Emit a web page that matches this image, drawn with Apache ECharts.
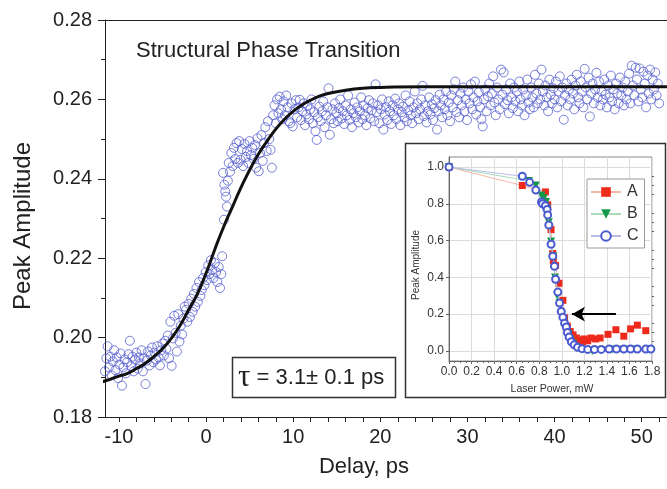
<!DOCTYPE html>
<html>
<head>
<meta charset="utf-8">
<script src="https://cdn.jsdelivr.net/npm/echarts@6/dist/echarts.min.js"></script>
<style>html,body{margin:0;padding:0;background:#fff}#c{width:667px;height:489px}</style>
</head>
<body>
<div id="c"></div>
<script>
// ---------- main panel data ----------
const xLabelValues = [-10, 0, 10, 20, 30, 40, 50];
const xTickValues = [-10,-8,-6,-4,-2,0,2,4,6,8,10,12,14,16,18,20,22,24,26,28,30,32,34,36,38,40,42,44,46,48,50,52];
const measuredPoints = [
[-11.9,0.1935],[-11.75,0.1962],[-11.6,0.1915],[-11.45,0.1948],[-11.3,0.1978],[-11.15,0.1925],[-11.0,0.1952],[-10.85,0.1905],[-10.7,0.1940],[-10.55,0.1968],[-10.4,0.1918],[-10.25,0.1950],[-10.1,0.1898],[-9.95,0.1932],[-9.8,0.1960],[-9.65,0.1879],[-9.5,0.1925],[-9.35,0.1945],[-9.2,0.1910],[-9.05,0.1938],[-8.9,0.1958],[-8.75,0.1992],[-8.6,0.1928],[-8.45,0.1952],[-8.3,0.1915],[-8.15,0.1945],[-8.0,0.1962],[-7.85,0.1922],[-7.7,0.1950],[-7.55,0.1935],[-7.4,0.1968],[-7.25,0.1915],[-7.1,0.1948],[-6.95,0.1883],[-6.8,0.1942],[-6.65,0.1965],[-6.5,0.1930],[-6.35,0.1955],[-6.2,0.1975],[-6.05,0.1938],[-5.9,0.1962],[-5.75,0.1945],[-5.6,0.1978],[-5.45,0.1950],[-5.3,0.1930],[-5.15,0.1968],[-5.0,0.1985],
[-4.85,0.1955],[-4.7,0.1992],[-4.55,0.1972],[-4.4,0.2005],[-4.25,0.1948],[-4.1,0.2040],[-3.95,0.1929],[-3.8,0.1998],[-3.65,0.2055],[-3.5,0.2012],[-3.35,0.1965],[-3.2,0.2059],[-3.05,0.1990],[-2.9,0.2030],[-2.75,0.2008],[-2.6,0.2048],[-2.45,0.2078],[-2.3,0.2070],[-2.15,0.2040],[-2.0,0.2085],[-1.85,0.2052],[-1.7,0.2098],[-1.55,0.2065],[-1.4,0.2110],[-1.25,0.2078],[-1.1,0.2125],[-0.95,0.2090],[-0.8,0.2140],[-0.65,0.2105],
[-0.5,0.2120],[-0.35,0.2150],[-0.2,0.2132],[-0.05,0.2165],[0.1,0.2145],[0.25,0.2182],[0.4,0.2160],[0.55,0.2195],[0.7,0.2170],[0.85,0.2150],[1.0,0.2188],[1.15,0.2165],[1.3,0.2140],[1.45,0.2178],[1.6,0.2125],[1.75,0.2160],[1.85,0.2205],[1.95,0.2415],[2.05,0.2297],[2.1,0.2385],[2.2,0.2368],[2.3,0.2355],[2.4,0.2330],[2.5,0.2395],[2.6,0.2440],[2.75,0.2418],[2.9,0.2465],[3.05,0.2432],[3.2,0.2478],[3.35,0.2450],[3.5,0.2490],[3.65,0.2440],
[3.8,0.2495],[3.95,0.2448],[4.1,0.2475],[4.25,0.2432],[4.4,0.2488],[4.55,0.2455],[4.7,0.2470],[4.85,0.2440],[5.0,0.2495],[5.15,0.2460],[5.3,0.2478],[5.45,0.2450],[5.6,0.2485],[5.75,0.2428],[5.9,0.2502],[6.05,0.2419],[6.2,0.2465],[6.35,0.2510],[6.5,0.2445],[6.65,0.2490],[6.8,0.2530],[6.95,0.2470],[7.1,0.2545],[7.25,0.2500],[7.4,0.2473],[7.55,0.2428],[7.7,0.2560],[7.85,0.2585],[8.0,0.2540],[8.15,0.2600],[8.3,0.2565],[8.45,0.2607],[8.6,0.2575],[8.75,0.2550],[8.9,0.2595],[9.05,0.2560],[9.2,0.2610],[9.35,0.2580],[9.5,0.2545],[9.65,0.2540],[9.8,0.2590],[9.95,0.2532],
[10.15,0.2575],[10.3,0.2598],[10.45,0.2555],[10.6,0.2580],[10.75,0.2599],[10.9,0.2548],[11.05,0.2570],[11.2,0.2590],[11.35,0.2535],[11.5,0.2562],[11.65,0.2585],[11.8,0.2550],[11.95,0.2575],[12.1,0.2600],[12.25,0.2540],[12.4,0.2568],[12.55,0.2520],[12.7,0.2498],[12.85,0.2555],[13.0,0.2582],[13.15,0.2545],[13.3,0.2570],[13.45,0.2595],[13.6,0.2530],[13.75,0.2560],[13.9,0.2580],[14.05,0.2628],[14.2,0.2511],[14.35,0.2550],[14.5,0.2575],[14.65,0.2540],[14.8,0.2590],[14.95,0.2565],
[15.1,0.2545],[15.25,0.2578],[15.4,0.2600],[15.55,0.2552],[15.7,0.2570],[15.85,0.2538],[16.0,0.2585],[16.15,0.2560],[16.3,0.2610],[16.45,0.2548],[16.6,0.2575],[16.75,0.2530],[16.9,0.2565],[17.05,0.2592],[17.2,0.2555],[17.35,0.2580],[17.5,0.2542],[17.65,0.2570],[17.8,0.2605],[17.95,0.2550],[18.1,0.2585],[18.25,0.2560],[18.4,0.2535],[18.55,0.2578],[18.7,0.2598],[18.85,0.2552],[19.0,0.2572],[19.15,0.2590],[19.3,0.2545],[19.45,0.2638],[19.6,0.2568],[19.75,0.2585],[19.9,0.2540],
[20.05,0.2575],[20.2,0.2600],[20.35,0.2524],[20.5,0.2562],[20.65,0.2580],[20.8,0.2548],[20.95,0.2595],[21.1,0.2570],[21.25,0.2538],[21.4,0.2585],[21.55,0.2560],[21.7,0.2602],[21.85,0.2550],[22.0,0.2575],[22.15,0.2590],[22.3,0.2535],[22.45,0.2568],[22.6,0.2582],[22.75,0.2555],[22.9,0.2610],[23.05,0.2545],[23.2,0.2572],[23.35,0.2595],[23.5,0.2560],[23.65,0.2540],[23.8,0.2580],[23.95,0.2620],[24.1,0.2565],[24.25,0.2590],[24.4,0.2550],[24.55,0.2575],[24.7,0.2600],[24.85,0.2634],
[25.0,0.2558],[25.15,0.2585],[25.3,0.2542],[25.45,0.2570],[25.6,0.2605],[25.75,0.2562],[25.9,0.2588],[26.05,0.2548],[26.2,0.2578],[26.35,0.2598],[26.5,0.2524],[26.65,0.2570],[26.8,0.2612],[26.95,0.2585],[27.1,0.2555],[27.25,0.2600],[27.4,0.2575],[27.55,0.2620],[27.7,0.2560],[27.85,0.2592],[28.0,0.2545],[28.15,0.2610],[28.3,0.2580],[28.45,0.2625],[28.6,0.2645],[28.75,0.2568],[28.9,0.2598],[29.05,0.2555],[29.2,0.2615],[29.35,0.2585],[29.5,0.2630],[29.65,0.2570],[29.8,0.2600],[29.95,0.2548],
[30.1,0.2620],[30.25,0.2590],[30.4,0.2638],[30.55,0.2575],[30.7,0.2605],[30.85,0.2645],[31.0,0.2562],[31.15,0.2595],[31.3,0.2618],[31.45,0.2580],[31.6,0.2550],[31.75,0.2532],[31.9,0.2600],[32.05,0.2625],[32.2,0.2570],[32.35,0.2608],[32.5,0.2640],[32.65,0.2585],[32.8,0.2615],[32.95,0.2658],[33.1,0.2592],[33.25,0.2560],[33.4,0.2630],[33.55,0.2600],[33.7,0.2575],[33.85,0.2675],[34.0,0.2612],[34.15,0.2668],[34.3,0.2588],[34.45,0.2625],[34.6,0.2598],[34.75,0.2565],[34.9,0.2640],
[35.05,0.2605],[35.2,0.2578],[35.35,0.2630],[35.5,0.2595],[35.65,0.2620],[35.8,0.2570],[35.95,0.2645],[36.1,0.2600],[36.25,0.2585],[36.4,0.2625],[36.55,0.2560],[36.7,0.2610],[36.85,0.2650],[37.0,0.2592],[37.15,0.2575],[37.3,0.2630],[37.45,0.2605],[37.6,0.2580],[37.75,0.2662],[37.9,0.2615],[38.05,0.2590],[38.2,0.2640],[38.35,0.2600],[38.5,0.2675],[38.65,0.2620],[38.8,0.2585],[38.95,0.2635],[39.1,0.2605],[39.25,0.2570],[39.4,0.2650],[39.55,0.2612],[39.7,0.2590],[39.85,0.2628],
[40.0,0.2600],[40.15,0.2645],[40.3,0.2580],[40.45,0.2620],[40.6,0.2658],[40.75,0.2595],[40.9,0.2630],[41.05,0.2549],[41.2,0.2610],[41.35,0.2640],[41.5,0.2585],[41.65,0.2625],[41.8,0.2600],[41.95,0.2650],[42.1,0.2615],[42.25,0.2575],[42.4,0.2635],[42.55,0.2662],[42.7,0.2605],[42.85,0.2590],[43.0,0.2645],[43.15,0.2620],[43.3,0.2580],[43.45,0.2677],[43.6,0.2630],[43.75,0.2600],[43.9,0.2655],[44.05,0.2557],[44.2,0.2615],[44.35,0.2640],[44.5,0.2590],[44.65,0.2625],[44.8,0.2667],[44.95,0.2605],
[45.1,0.2645],[45.25,0.2585],[45.4,0.2620],[45.55,0.2600],[45.7,0.2650],[45.85,0.2612],[46.0,0.2580],[46.15,0.2635],[46.3,0.2605],[46.45,0.2660],[46.6,0.2595],[46.75,0.2625],[46.9,0.2575],[47.05,0.2640],[47.2,0.2615],[47.35,0.2590],[47.5,0.2655],[47.65,0.2610],[47.8,0.2630],[47.95,0.2585],[48.1,0.2645],[48.25,0.2600],[48.4,0.2620],[48.55,0.2665],[48.7,0.2590],[48.85,0.2685],[49.0,0.2635],[49.15,0.2610],[49.3,0.2680],[49.45,0.2650],[49.6,0.2595],[49.75,0.2678],[49.9,0.2625],
[50.05,0.2605],[50.2,0.2670],[50.35,0.2640],[50.5,0.2580],[50.65,0.2660],[50.8,0.2615],[50.95,0.2675],[51.1,0.2600],[51.25,0.2650],[51.4,0.2625],[51.55,0.2668],[51.7,0.2610],[51.85,0.2640],[52.0,0.2590]
];
const fitCurve = [[-12,0.1888],[-11,0.1895],[-10,0.1903],[-9,0.1910],[-8,0.1922],[-7,0.1935],[-6,0.1952],[-5,0.1972],[-4,0.1998],[-3,0.2030],[-2,0.2070],[-1,0.2110],[0,0.2162],[1,0.2222],[2,0.2278],[3,0.2328],[4,0.2378],[5,0.2422],[6,0.2462],[7,0.2495],[8,0.2525],[9,0.2550],[10,0.2570],[11,0.2586],[12,0.2598],[13,0.2608],[14,0.2615],[16,0.2623],[18,0.2628],[20,0.2630],[25,0.2632],[30,0.2632],[40,0.2632],[53,0.2632]];

// ---------- inset data ----------
const insetYLabels = [0, 0.2, 0.4, 0.6, 0.8, 1.0];
const insetYMinor = [0.05,0.1,0.15,0.25,0.3,0.35,0.45,0.5,0.55,0.65,0.7,0.75,0.85,0.9,0.95];
const seriesA = [[0,1.0],[0.65,0.90],[0.855,0.865],[0.875,0.795],[0.905,0.66],[0.92,0.53],[0.925,0.49],[0.945,0.465],[0.975,0.368],[1.01,0.275],[1.025,0.18],[1.05,0.135],[1.075,0.105],[1.1,0.087],[1.13,0.07],[1.155,0.06],[1.185,0.05],[1.2,0.065],[1.23,0.055],[1.26,0.07],[1.3,0.065],[1.34,0.07],[1.41,0.09],[1.48,0.115],[1.55,0.08],[1.61,0.12],[1.67,0.14],[1.745,0.11]];
const seriesB = [[0,1.0],[0.71,0.925],[0.77,0.90],[0.82,0.845],[0.84,0.83],[0.86,0.81],[0.87,0.775],[0.885,0.70],[0.905,0.595],[0.925,0.515],[0.94,0.40],[0.96,0.30],[0.98,0.26],[1.0,0.20],[1.02,0.16],[1.04,0.12],[1.06,0.09],[1.08,0.06],[1.1,0.04],[1.13,0.02],[1.17,0.01],[1.22,0.005],[1.27,0.0],[1.35,0.005],[1.45,0.008],[1.55,0.008],[1.65,0.008],[1.78,0.008]];
const seriesC = [[0,1.0],[0.65,0.95],[0.715,0.917],[0.77,0.875],[0.82,0.81],[0.83,0.80],[0.855,0.79],[0.87,0.77],[0.875,0.74],[0.885,0.685],[0.905,0.58],[0.92,0.515],[0.935,0.46],[0.945,0.39],[0.965,0.32],[0.98,0.26],[0.995,0.215],[1.01,0.183],[1.025,0.15],[1.04,0.13],[1.05,0.10],[1.065,0.075],[1.085,0.05],[1.11,0.033],[1.14,0.02],[1.18,0.012],[1.23,0.008],[1.29,0.008],[1.35,0.008],[1.42,0.01],[1.485,0.01],[1.55,0.01],[1.61,0.01],[1.67,0.01],[1.745,0.01],[1.79,0.01]];
const arrowFrom = [1.48, 0.2];
const arrowTo = [1.09, 0.2];

const FONT = "'Liberation Sans', Arial, Helvetica, sans-serif";
const chart = echarts.init(document.getElementById('c'), null, {renderer: 'canvas'});

const option = {
  backgroundColor: '#ffffff',
  animation: false,
  textStyle: {fontFamily: FONT},
  grid: [
    {left: 105, right: -6, top: 20, bottom: 72},
    {left: 449, top: 157, width: 203, height: 204, show: true, borderColor: '#8a8a8a', borderWidth: 1, backgroundColor: '#fff'}
  ],
  xAxis: [
    {gridIndex: 0, type: 'value', min: -11.6, max: 52.9,
     axisLine: {show: true, onZero: false, lineStyle: {color: '#222', width: 1}},
     axisTick: {show: true, inside: false, length: 5, customValues: xTickValues, lineStyle: {color: '#222'}},
     axisLabel: {customValues: xLabelValues, fontSize: 20, color: '#222', margin: 10, fontFamily: FONT},
     splitLine: {show: false}},
    {gridIndex: 0, type: 'value', position: 'top', min: -11.6, max: 52.9,
     axisLine: {show: true, onZero: false, lineStyle: {color: '#222', width: 1}},
     axisTick: {show: false}, axisLabel: {show: false}, splitLine: {show: false}},
    {gridIndex: 1, type: 'value', min: 0, max: 1.8, interval: 0.2,
     axisLine: {show: true, onZero: false, lineStyle: {color: '#666'}},
     axisTick: {show: true, inside: false, length: 3, lineStyle: {color: '#666'}},
     minorTick: {show: true, splitNumber: 4, length: 2, lineStyle: {color: '#666'}},
     axisLabel: {fontSize: 12, color: '#333', margin: 5, formatter: v => v.toFixed(1), fontFamily: FONT},
     splitLine: {show: true, lineStyle: {color: '#dcdcdc', width: 1}}}
  ],
  yAxis: [
    {gridIndex: 0, type: 'value', min: 0.18, max: 0.28, interval: 0.02,
     axisLine: {show: true, onZero: false, lineStyle: {color: '#222', width: 1}},
     axisTick: {show: true, inside: false, length: 7, lineStyle: {color: '#222'}},
     minorTick: {show: true, splitNumber: 2, length: 4, lineStyle: {color: '#222'}},
     axisLabel: {fontSize: 20, color: '#222', margin: 13, formatter: v => v.toFixed(2), fontFamily: FONT},
     splitLine: {show: false}},
    {gridIndex: 1, type: 'value', min: -0.055, max: 1.055,
     axisLine: {show: true, onZero: false, lineStyle: {color: '#666'}},
     axisTick: {show: true, inside: false, length: 3, customValues: insetYLabels, lineStyle: {color: '#666'}},
     axisLabel: {customValues: insetYLabels, fontSize: 12, color: '#333', margin: 5, formatter: v => v.toFixed(1), fontFamily: FONT},
     splitLine: {show: true, lineStyle: {color: '#dcdcdc', width: 1}}},
    {gridIndex: 1, type: 'value', min: -0.055, max: 1.055,
     axisLine: {show: false, onZero: false},
     axisTick: {show: true, inside: false, length: 2, customValues: insetYMinor, lineStyle: {color: '#666'}},
     axisLabel: {show: false}, splitLine: {show: false}}
  ],
  legend: {
    data: ['A', 'B', 'C'], orient: 'vertical', left: 587, top: 179,
    itemWidth: 30, itemHeight: 12, itemGap: 6,
    backgroundColor: '#fff', borderColor: '#999', borderWidth: 1, borderRadius: 0,
    padding: [5, 6, 4, 3],
    textStyle: {fontSize: 16, color: '#333', fontFamily: FONT, padding: [0, 0, 0, 1]}
  },
  series: [
    {type: 'scatter', name: 'data', xAxisIndex: 0, yAxisIndex: 0, data: measuredPoints,
     symbol: 'circle', symbolSize: 9,
     itemStyle: {color: 'rgba(255,255,255,0)', borderColor: '#5860cf', borderWidth: 1}, z: 2},
    {type: 'line', name: 'fit', xAxisIndex: 0, yAxisIndex: 0, data: fitCurve, smooth: true,
     showSymbol: false, lineStyle: {color: '#111', width: 3}, z: 3},
    {type: 'line', name: 'A', xAxisIndex: 2, yAxisIndex: 1, data: seriesA,
     symbol: 'rect', symbolSize: 7,
     itemStyle: {color: '#ee2a1c'}, lineStyle: {color: '#f7b7a6', width: 1}, z: 5,
     markLine: {silent: true, symbol: ['none', 'arrow'], symbolSize: [11, 13],
       label: {show: false},
       lineStyle: {color: '#000', width: 2, type: 'solid'},
       data: [[{coord: arrowFrom}, {coord: arrowTo}]]}},
    {type: 'line', name: 'B', xAxisIndex: 2, yAxisIndex: 1, data: seriesB,
     symbol: 'triangle', symbolRotate: 180, symbolSize: 8,
     itemStyle: {color: '#16984a'}, lineStyle: {color: '#a6dcb6', width: 1}, z: 6},
    {type: 'line', name: 'C', xAxisIndex: 2, yAxisIndex: 1, data: seriesC,
     symbol: 'emptyCircle', symbolSize: 7,
     itemStyle: {color: '#4a5ad0', borderColor: '#4a5ad0', borderWidth: 1.1}, lineStyle: {color: '#b9bde8', width: 1}, z: 7}
  ],
  graphic: [
    {type: 'rect', z: -10, shape: {x: 405.5, y: 143.5, width: 260, height: 254},
     style: {fill: '#fff', stroke: '#333', lineWidth: 1.5}},
    {type: 'rect', z: 10, shape: {x: 232.5, y: 357.5, width: 163, height: 40},
     style: {fill: '#fff', stroke: '#333', lineWidth: 1.5}},
    {type: 'text', z: 11, left: 238, top: 362,
     style: {text: '{t|τ} = 3.1± 0.1 ps', fill: '#222', font: '22px ' + FONT,
       rich: {t: {fontFamily: "'Liberation Serif', 'DejaVu Serif', serif", fontSize: 31, fill: '#222'}}}},
    {type: 'text', z: 11, x: 136, y: 51,
     style: {text: 'Structural Phase Transition', fill: '#222', font: '22px ' + FONT, verticalAlign: 'middle', align: 'left'}},
    {type: 'text', z: 11, x: 23, y: 226, rotation: Math.PI / 2,
     style: {text: 'Peak Amplitude', fill: '#222', font: '24px ' + FONT, align: 'center', verticalAlign: 'middle'}},
    {type: 'text', z: 11, x: 364, y: 467,
     style: {text: 'Delay, ps', fill: '#222', font: '22px ' + FONT, align: 'center', verticalAlign: 'middle'}},
    {type: 'text', z: 11, x: 552, y: 389,
     style: {text: 'Laser Power, mW', fill: '#333', font: '10.5px ' + FONT, align: 'center', verticalAlign: 'middle'}},
    {type: 'text', z: 11, x: 416, y: 265, rotation: Math.PI / 2,
     style: {text: 'Peak Amplitude', fill: '#333', font: '10px ' + FONT, align: 'center', verticalAlign: 'middle'}}
  ]
};
chart.setOption(option);
</script>
</body>
</html>
